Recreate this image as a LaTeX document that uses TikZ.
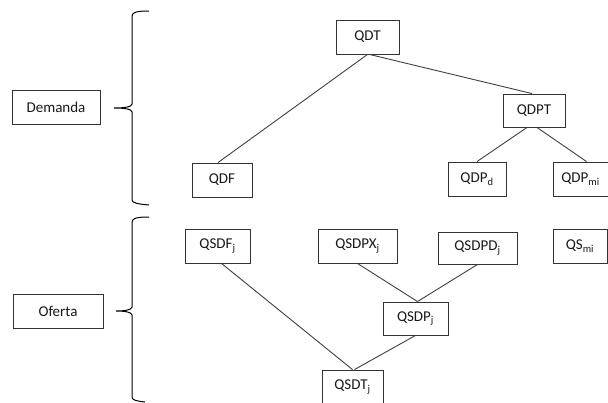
\documentclass[tikz,border=0pt]{standalone}
\usepackage{fontspec}
\setmainfont{Carlito}
\begin{document}
\begin{tikzpicture}[x=1pt,y=-1pt,
  box/.style={draw=black!80,line width=0.9pt,inner sep=0pt,font=\fontsize{15}{18}\selectfont,text=black!90},
  link/.style={draw=black!75,line width=0.9pt},
  brace/.style={draw=black,line width=1pt}]
\useasboundingbox (0,0) rectangle (608,402);
\clip (0,0) rectangle (608,402);
\fill[white] (0,0) rectangle (608,402);
% labels
\node[box,minimum width=88pt,minimum height=34pt] (dem) at (56,107) {Demanda};
\node[box,minimum width=90pt,minimum height=34pt] (of) at (58,311) {Oferta};
% braces
\draw[brace] (149,11) .. controls (138,11) and (132,12) .. (132,16) -- (132,104) .. controls (132,107) and (124,108) .. (114,108) .. controls (124,108) and (132,109) .. (132,112) -- (132,200) .. controls (132,203) and (138,204) .. (149,205);
\draw[brace] (149,217) .. controls (138,217) and (132,218) .. (132,222) -- (132,307) .. controls (132,310) and (124,311) .. (116,311) .. controls (124,311) and (132,312) .. (132,315) -- (132,397) .. controls (132,400) and (136,401) .. (145,402);
% demand tree
\node[box,minimum width=63pt,minimum height=34pt] (qdt) at (367.5,37) {QDT};
\node[box,minimum width=62pt,minimum height=33pt] (qdpt) at (534,110.5) {QDPT};
\node[box,minimum width=60pt,minimum height=34pt] (qdf) at (222,180) {QDF};
\node[box,minimum width=58pt,minimum height=34pt] (qdpd) at (477,179) {QDP\textsubscript{d}};
\node[box,minimum width=55pt,minimum height=34pt] (qdpmi) at (580.5,179) {QDP\textsubscript{mi}};
\draw[link] (qdt.south) -- ([xshift=-4pt]qdf.north);
\draw[link] ([xshift=2pt]qdt.south) -- ([xshift=-2pt]qdpt.north);
\draw[link] ([xshift=-7pt]qdpt.south) -- (qdpd.north);
\draw[link] ([xshift=3pt]qdpt.south) -- ([xshift=6pt]qdpmi.north);
% supply tree
\node[box,minimum width=65pt,minimum height=34pt] (qsdf) at (217.5,246) {QSDF\textsubscript{j}};
\node[box,minimum width=79pt,minimum height=34pt] (qsdpx) at (357.5,246) {QSDPX\textsubscript{j}};
\node[box,minimum width=79pt,minimum height=32pt] (qsdpd) at (477.5,248) {QSDPD\textsubscript{j}};
\node[box,minimum width=54pt,minimum height=34pt] (qsmi) at (580,246) {QS\textsubscript{mi}};
\node[box,minimum width=65pt,minimum height=33pt] (qsdp) at (415.5,318.5) {QSDP\textsubscript{j}};
\node[box,minimum width=61pt,minimum height=34pt] (qsdt) at (352.5,387) {QSDT\textsubscript{j}};
\draw[link] ([xshift=4pt]qsdf.south) -- (qsdt.north);
\draw[link] (qsdpx.south) -- ([xshift=2pt]qsdp.north);
\draw[link] (qsdpd.south) -- ([xshift=2pt]qsdp.north);
\draw[link] (qsdp.south) -- ([xshift=2pt]qsdt.north);
\end{tikzpicture}
\end{document}
